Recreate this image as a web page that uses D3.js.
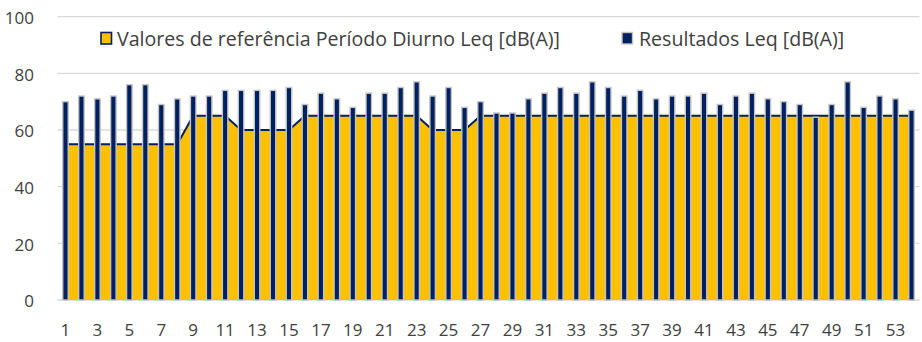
<!DOCTYPE html>
<html>
<head>
<meta charset="utf-8">
<script src="https://cdn.jsdelivr.net/npm/d3@7"></script>
<style>
  html, body { margin: 0; padding: 0; background: #fff; }
  svg { display: block; font-family: "Open Sans", "Noto Sans", sans-serif; }
</style>
</head>
<body>
<svg id="chart" width="922" height="342"></svg>
<script>
// Measurement points 1..54
const categories = d3.range(1, 55).map(String);
// Reference limit, daytime period (dB(A))
const referenceValues = [
  55, 55, 55, 55, 55, 55, 55, 55, 65, 65,
  65, 60, 60, 60, 60, 65, 65, 65, 65, 65,
  65, 65, 65, 60, 60, 60, 65, 65, 65, 65,
  65, 65, 65, 65, 65, 65, 65, 65, 65, 65,
  65, 65, 65, 65, 65, 65, 65, 65, 65, 65,
  65, 65, 65, 65
];
// Measured Leq results (dB(A))
const resultValues = [
  70, 72, 71, 72, 76, 76, 69, 71, 72, 72,
  74, 74, 74, 74, 75, 69, 73, 71, 68, 73,
  73, 75, 77, 72, 75, 68, 70, 66, 66, 71,
  73, 75, 73, 77, 75, 72, 74, 71, 72, 72,
  73, 69, 72, 73, 71, 70, 69, 64.5, 69, 77,
  68, 72, 71, 67
];
const yTicks = [0, 20, 40, 60, 80, 100];
const xTickLabels = categories.filter((d, i) => i % 2 === 0);
const seriesNames = ["Valores de referência Período Diurno Leq [dB(A)]", "Resultados Leq [dB(A)]"];

const svg = d3.select("#chart");
const x = d3.scaleBand().domain(categories).range([57.5, 919.5]).padding(0);
const y = d3.scaleLinear().domain([0, 100]).range([300, 16.7]);
const cx = d => x(d) + x.bandwidth() / 2;

const navy = "#002060", gold = "#FFC000", grid = "#d9d9d9", text = "#404040";

// Horizontal gridlines
svg.append("g").selectAll("line").data(yTicks).join("line")
  .attr("x1", x.range()[0]).attr("x2", x.range()[1])
  .attr("y1", d => y(d)).attr("y2", d => y(d))
  .attr("stroke", grid).attr("stroke-width", 1.3);

// Y axis labels
const yAxis = svg.append("g").attr("transform", "translate(34,0)")
  .call(d3.axisLeft(y).tickValues(yTicks).tickSize(0).tickPadding(0));
yAxis.select(".domain").remove();
yAxis.selectAll("text").attr("font-size", 17).attr("fill", text)
  .attr("font-family", "'Open Sans', sans-serif").attr("dy", "0.4em");

// Reference area
const pts = categories.map((c, i) => ({ c, v: referenceValues[i] }));
svg.append("path").datum(pts)
  .attr("fill", gold)
  .attr("d", d3.area().x(d => cx(d.c)).y0(y(0)).y1(d => y(d.v)));
svg.append("path").datum(pts)
  .attr("fill", "none").attr("stroke", navy).attr("stroke-width", 2)
  .attr("d", d3.line().x(d => cx(d.c)).y(d => y(d.v)));

// Result bars
const bw = 5.5;
svg.append("g").selectAll("rect").data(categories).join("rect")
  .attr("x", d => cx(d) - bw / 2)
  .attr("width", bw)
  .attr("y", (d, i) => y(resultValues[i]))
  .attr("height", (d, i) => y(0) - y(resultValues[i]))
  .attr("fill", navy)
  .attr("stroke", "#c4c4c4").attr("stroke-width", 1.4);

// X axis labels
const xAxis = svg.append("g").attr("transform", `translate(0,${y(0)})`)
  .call(d3.axisBottom(x).tickValues(xTickLabels).tickSize(0).tickPadding(24));
xAxis.select(".domain").remove();
xAxis.selectAll("text").attr("font-size", 17).attr("fill", text)
  .attr("font-family", "'Open Sans', sans-serif");

// Legend
const legend = svg.append("g");
legend.append("rect").attr("x", 101).attr("y", 32.5).attr("width", 10.5).attr("height", 11.5)
  .attr("fill", gold).attr("stroke", navy).attr("stroke-width", 1.6);
legend.append("text").attr("x", 117).attr("y", 45.8).text(seriesNames[0])
  .attr("font-size", 19.6).attr("fill", text);
legend.append("rect").attr("x", 622).attr("y", 32.5).attr("width", 10.5).attr("height", 11.5)
  .attr("fill", navy).attr("stroke", "#c4c4c4").attr("stroke-width", 1.4);
legend.append("text").attr("x", 639).attr("y", 45.8).text(seriesNames[1])
  .attr("font-size", 19.6).attr("fill", text);
</script>
</body>
</html>
